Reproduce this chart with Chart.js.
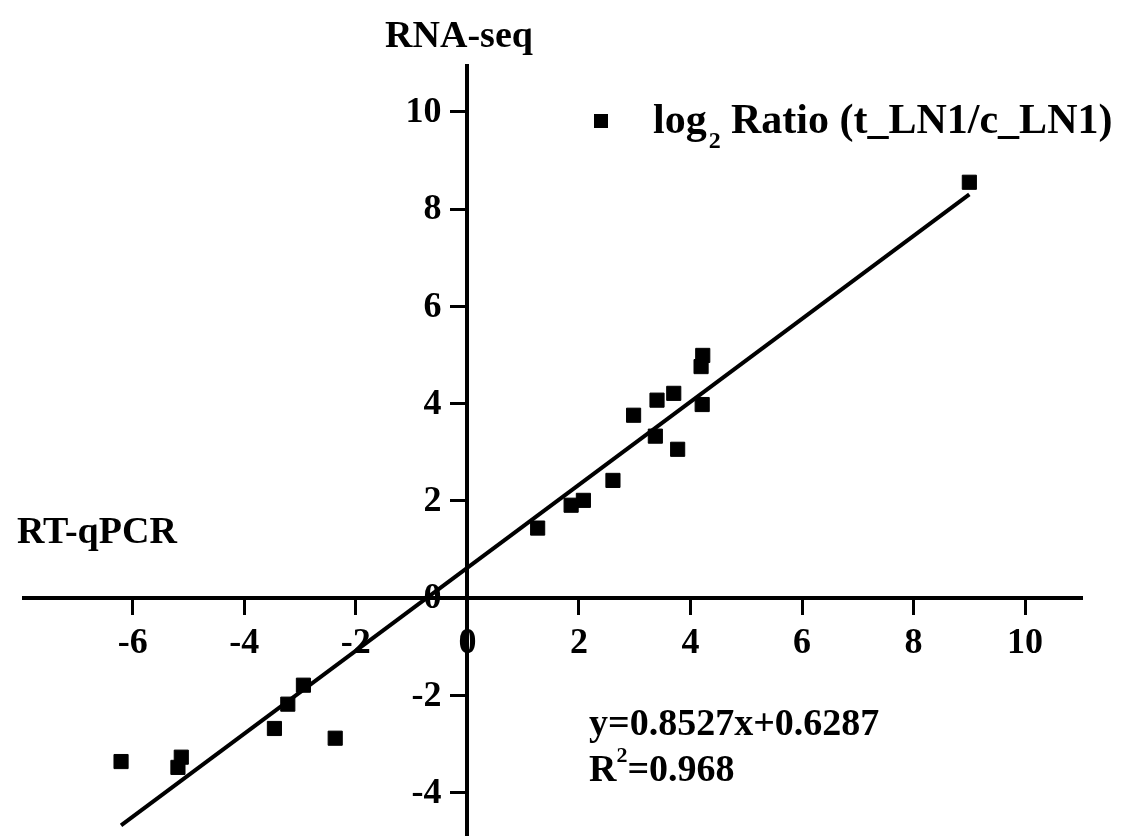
<!DOCTYPE html>
<html lang="en">
<head>
  <meta charset="UTF-8">
  <title>RNA-seq vs RT-qPCR</title>
  <script src="https://cdn.jsdelivr.net/npm/chart.js"></script>
  <style>
    html, body { margin: 0; padding: 0; background: #fff; overflow: hidden; }
    /* a bit taller than the window: the y axis runs off the bottom edge in the original */
    .chart-box { width: 1126px; height: 846px; position: relative; }
  </style>
</head>
<body>
<div class="chart-box"><canvas id="corrChart"></canvas></div>

<script>
  // log2 ratio measured by RT-qPCR (x) and by RNA-seq (y), one pair per gene
  const qpcrVals   = [-6.21, -5.13, -5.19, -3.46, -3.22, -2.94, -2.37, 1.26, 1.86, 2.08, 2.61, 2.98, 3.37, 3.40, 3.70, 3.77, 4.19, 4.21, 4.22, 9.00];
  const rnaseqVals = [-3.36, -3.27, -3.48, -2.68, -2.18, -1.79, -2.88, 1.44, 1.91, 2.01, 2.42, 3.76, 3.33, 4.07, 4.21, 3.06, 4.76, 3.98, 4.99, 8.55];

  // ends of the fitted line as drawn in the figure
  const fitX = [-6.21, 9.00];
  const fitY = [-4.67, 8.30];

  const xTicks = [-6, -4, -2, 0, 2, 4, 6, 8, 10];
  const yTicks = [-4, -2, 0, 2, 4, 6, 8, 10];

  const serif = "'Liberation Serif', 'Times New Roman', serif";
  Chart.defaults.font.family = serif;
  Chart.defaults.font.weight = 'bold';
  Chart.defaults.color = '#000';

  // texts that Chart.js can't place on its own (titles, legend, equation)
  // y tick labels too: with a centred axis Chart.js puts them on the line
  const notes = {
    id: 'notes',
    afterDraw(chart) {
      const ctx = chart.ctx;
      const f = size => `bold ${size}px ${serif}`;
      const xs = chart.scales.x, ys = chart.scales.y;
      const axisX = xs.getPixelForValue(0);
      ctx.save();
      ctx.fillStyle = '#000';

      ctx.font = f(36);
      ctx.textAlign = 'right';
      ctx.textBaseline = 'middle';
      yTicks.forEach(v => ctx.fillText(String(v), axisX - 26, ys.getPixelForValue(v) + 1));

      ctx.textBaseline = 'alphabetic';
      ctx.font = f(38);
      ctx.textAlign = 'center';
      ctx.fillText('RNA-seq', 459, 47);
      ctx.textAlign = 'left';
      ctx.fillText('RT-qPCR', 17, 543);

      // legend
      ctx.fillRect(594, 114, 14, 14);
      ctx.font = f(42);
      ctx.fillText('log', 653, 133);
      let x = 653 + ctx.measureText('log').width + 2;
      ctx.font = f(24);
      ctx.fillText('2', x, 148);
      ctx.font = f(42);
      ctx.fillText('Ratio (t_LN1/c_LN1)', 731, 133);

      // fit
      ctx.font = f(38);
      ctx.fillText('y=0.8527x+0.6287', 589, 735);
      x = 589;
      ctx.fillText('R', x, 781);
      x += ctx.measureText('R').width;
      ctx.font = f(22);
      ctx.fillText('2', x, 762);
      x += ctx.measureText('2').width;
      ctx.font = f(38);
      ctx.fillText('=0.968', x, 781);
      ctx.restore();
    }
  };

  const ctx = document.getElementById('corrChart').getContext('2d');
  new Chart(ctx, {
    type: 'scatter',
    data: {
      datasets: [{
        label: 'log2 Ratio (t_LN1/c_LN1)',
        data: qpcrVals.map((v, i) => ({ x: v, y: rnaseqVals[i] })),
        pointStyle: 'rect',
        pointRadius: 10,
        pointBorderWidth: 1,
        backgroundColor: '#000',
        borderColor: '#000'
      }, {
        label: 'fit',
        type: 'line',
        data: fitX.map((v, i) => ({ x: v, y: fitY[i] })),
        borderColor: '#000',
        borderWidth: 4,
        pointRadius: 0,
        fill: false
      }]
    },
    options: {
      responsive: true,
      maintainAspectRatio: false,
      animation: false,
      layout: { padding: { left: 24, right: 44, top: 66, bottom: 0 } },
      plugins: { legend: { display: false }, tooltip: { enabled: false } },
      scales: {
        x: {
          type: 'linear',
          min: -7.95, max: 11.02,
          position: { y: 0 },
          afterBuildTicks: s => { s.ticks = xTicks.map(v => ({ value: v })); },
          grid: { drawOnChartArea: false, drawTicks: true, tickLength: 15, tickWidth: 3, tickColor: '#000' },
          border: { color: '#000', width: 4 },
          ticks: { font: { size: 36, weight: 'bold' }, padding: 9, maxRotation: 0 }
        },
        y: {
          type: 'linear',
          min: -4.87, max: 10.94,
          position: { x: 0 },
          afterBuildTicks: s => { s.ticks = yTicks.map(v => ({ value: v })); },
          grid: { drawOnChartArea: false, drawTicks: true, tickLength: 15, tickWidth: 3, tickColor: '#000' },
          border: { color: '#000', width: 4 },
          ticks: { display: false }
        }
      }
    },
    plugins: [notes]
  });
</script>
</body>
</html>
